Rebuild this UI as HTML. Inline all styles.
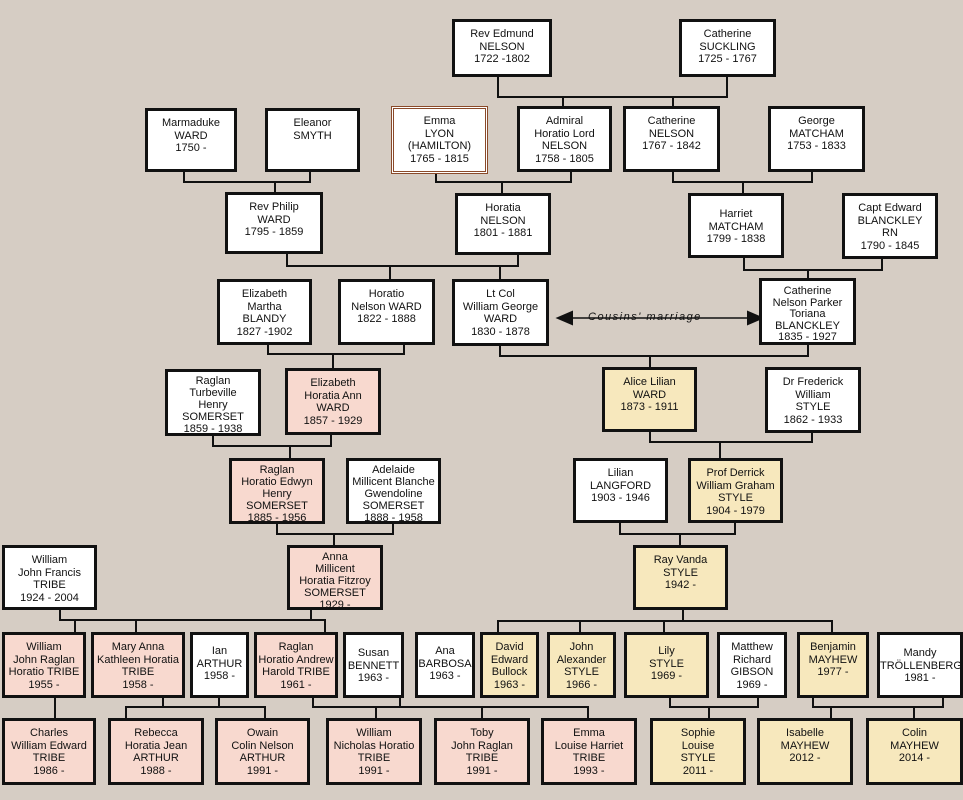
<!DOCTYPE html>
<html><head><meta charset="utf-8"><style>
body{margin:0;width:963px;height:800px;background:#d6cdc4;position:relative;overflow:hidden;font-family:"Liberation Sans",sans-serif}
.b{position:absolute;box-sizing:border-box;border:3px solid #111;background:#fff;text-align:center;font-size:11px;line-height:12.6px;padding-top:6px;color:#111;overflow:hidden;white-space:nowrap}
.p{background:#f8d9cf}.y{background:#f7e8bd}
svg{position:absolute;left:0;top:0}
.m{position:absolute;left:588px;top:311px;font-size:11px;font-style:italic;letter-spacing:1.5px;color:#111}
</style></head><body>
<svg width="963" height="800" stroke="#111" stroke-width="2" fill="none">
<path d="M498 77V97H727V77M563 97V107M673 97V107"/>
<path d="M184 172V182H310V172M275 182V193"/>
<path d="M436 174V182H571V172M502 182V193"/>
<path d="M673 172V182H812V172M743 182V193"/>
<path d="M287 254V266H518V255M390 266V279M500 266V279"/>
<path d="M744 258V270H882V259M808 270V278"/>
<path d="M268 345V354H404V345M333 354V368"/>
<path d="M500 346V356H808V345M650 356V367"/>
<path d="M213 436V446H331V435M290 446V458"/>
<path d="M650 432V442H812V433M720 442V458"/>
<path d="M277 524V534H393V524M334 534V545"/>
<path d="M620 523V534H735V523M680 534V545"/>
<path d="M60 610V620H325V632M311 610V620M75 620V632M136 620V632"/>
<path d="M683 610V621M498 632V621H832V632M580 621V632M664 621V632"/>
<path d="M55 698V718"/>
<path d="M163 698V707M219 698V707M126 718V707H265V718"/>
<path d="M313 698V707H588V718M400 698V707M376 707V718M482 707V718"/>
<path d="M670 698V707H758V698M709 707V718"/>
<path d="M813 698V707H943V698M831 707V718M914 707V718"/>
<path d="M572 318H748" stroke-width="1.5"/>
<path d="M558 318L572 312V324ZM762 318L748 312V324Z" fill="#111"/>
</svg>
<div class="m">Cousins' marriage</div>
<div class="b" style="left:452px;top:19px;width:100px;height:58px">Rev Edmund<br>NELSON<br>1722 -1802</div>
<div class="b" style="left:679px;top:19px;width:97px;height:58px">Catherine<br>SUCKLING<br>1725 - 1767</div>
<div class="b" style="left:145px;top:108px;width:92px;height:64px">Marmaduke<br>WARD<br>1750 -</div>
<div class="b" style="left:265px;top:108px;width:95px;height:64px">Eleanor<br>SMYTH</div>
<div class="b" style="left:391px;top:106px;width:97px;height:68px;border:3px double #8a4a2a">Emma<br>LYON<br>(HAMILTON)<br>1765 - 1815</div>
<div class="b" style="left:517px;top:106px;width:95px;height:66px">Admiral<br>Horatio Lord<br>NELSON<br>1758 - 1805</div>
<div class="b" style="left:623px;top:106px;width:97px;height:66px">Catherine<br>NELSON<br>1767 - 1842</div>
<div class="b" style="left:768px;top:106px;width:97px;height:66px">George<br>MATCHAM<br>1753 - 1833</div>
<div class="b" style="left:225px;top:192px;width:98px;height:62px">Rev Philip<br>WARD<br>1795 - 1859</div>
<div class="b" style="left:455px;top:193px;width:96px;height:62px">Horatia<br>NELSON<br>1801 - 1881</div>
<div class="b" style="left:688px;top:193px;width:96px;height:65px;padding-top:12px">Harriet<br>MATCHAM<br>1799 - 1838</div>
<div class="b" style="left:842px;top:193px;width:96px;height:66px">Capt Edward<br>BLANCKLEY<br>RN<br>1790 - 1845</div>
<div class="b" style="left:217px;top:279px;width:95px;height:66px">Elizabeth<br>Martha<br>BLANDY<br>1827 -1902</div>
<div class="b" style="left:338px;top:279px;width:97px;height:66px">Horatio<br>Nelson WARD<br>1822 - 1888</div>
<div class="b" style="left:452px;top:279px;width:97px;height:67px">Lt Col<br>William George<br>WARD<br>1830 - 1878</div>
<div class="b" style="left:759px;top:278px;width:97px;height:67px;padding-top:5px;line-height:11.5px">Catherine<br>Nelson Parker<br>Toriana<br>BLANCKLEY<br>1835 - 1927</div>
<div class="b" style="left:165px;top:369px;width:96px;height:67px;padding-top:3px;line-height:12px">Raglan<br>Turbeville<br>Henry<br>SOMERSET<br>1859 - 1938</div>
<div class="b p" style="left:285px;top:368px;width:96px;height:67px">Elizabeth<br>Horatia Ann<br>WARD<br>1857 - 1929</div>
<div class="b y" style="left:602px;top:367px;width:95px;height:65px">Alice Lilian<br>WARD<br>1873 - 1911</div>
<div class="b" style="left:765px;top:367px;width:96px;height:66px">Dr Frederick<br>William<br>STYLE<br>1862 - 1933</div>
<div class="b p" style="left:229px;top:458px;width:96px;height:66px;padding-top:3px;line-height:12px">Raglan<br>Horatio Edwyn<br>Henry<br>SOMERSET<br>1885 - 1956</div>
<div class="b" style="left:346px;top:458px;width:95px;height:66px;padding-top:3px;line-height:12px">Adelaide<br>Millicent Blanche<br>Gwendoline<br>SOMERSET<br>1888 - 1958</div>
<div class="b" style="left:573px;top:458px;width:95px;height:65px">Lilian<br>LANGFORD<br>1903 - 1946</div>
<div class="b y" style="left:688px;top:458px;width:95px;height:65px">Prof Derrick<br>William Graham<br>STYLE<br>1904 - 1979</div>
<div class="b" style="left:2px;top:545px;width:95px;height:65px">William<br>John Francis<br>TRIBE<br>1924 - 2004</div>
<div class="b p" style="left:287px;top:545px;width:96px;height:65px;padding-top:3px;line-height:12px">Anna<br>Millicent<br>Horatia Fitzroy<br>SOMERSET<br>1929 -</div>
<div class="b y" style="left:633px;top:545px;width:95px;height:65px">Ray Vanda<br>STYLE<br>1942 -</div>
<div class="b p" style="left:2px;top:632px;width:84px;height:66px">William<br>John Raglan<br>Horatio TRIBE<br>1955 -</div>
<div class="b p" style="left:91px;top:632px;width:94px;height:66px">Mary Anna<br>Kathleen Horatia<br>TRIBE<br>1958 -</div>
<div class="b" style="left:190px;top:632px;width:59px;height:66px;padding-top:10px">Ian<br>ARTHUR<br>1958 -</div>
<div class="b p" style="left:254px;top:632px;width:84px;height:66px">Raglan<br>Horatio Andrew<br>Harold TRIBE<br>1961 -</div>
<div class="b" style="left:343px;top:632px;width:61px;height:66px;padding-top:12px">Susan<br>BENNETT<br>1963 -</div>
<div class="b" style="left:415px;top:632px;width:60px;height:66px;padding-top:10px">Ana<br>BARBOSA<br>1963 -</div>
<div class="b y" style="left:480px;top:632px;width:59px;height:66px">David<br>Edward<br>Bullock<br>1963 -</div>
<div class="b y" style="left:547px;top:632px;width:69px;height:66px">John<br>Alexander<br>STYLE<br>1966 -</div>
<div class="b y" style="left:624px;top:632px;width:85px;height:66px;padding-top:10px">Lily<br>STYLE<br>1969 -</div>
<div class="b" style="left:717px;top:632px;width:70px;height:66px">Matthew<br>Richard<br>GIBSON<br>1969 -</div>
<div class="b y" style="left:797px;top:632px;width:72px;height:66px">Benjamin<br>MAYHEW<br>1977 -</div>
<div class="b" style="left:877px;top:632px;width:86px;height:66px;padding-top:12px">Mandy<br>TRÖLLENBERG<br>1981 -</div>
<div class="b p" style="left:2px;top:718px;width:94px;height:67px">Charles<br>William Edward<br>TRIBE<br>1986 -</div>
<div class="b p" style="left:108px;top:718px;width:96px;height:67px">Rebecca<br>Horatia Jean<br>ARTHUR<br>1988 -</div>
<div class="b p" style="left:215px;top:718px;width:95px;height:67px">Owain<br>Colin Nelson<br>ARTHUR<br>1991 -</div>
<div class="b p" style="left:326px;top:718px;width:96px;height:67px">William<br>Nicholas Horatio<br>TRIBE<br>1991 -</div>
<div class="b p" style="left:434px;top:718px;width:96px;height:67px">Toby<br>John Raglan<br>TRIBE<br>1991 -</div>
<div class="b p" style="left:541px;top:718px;width:96px;height:67px">Emma<br>Louise Harriet<br>TRIBE<br>1993 -</div>
<div class="b y" style="left:650px;top:718px;width:96px;height:67px">Sophie<br>Louise<br>STYLE<br>2011 -</div>
<div class="b y" style="left:757px;top:718px;width:96px;height:67px">Isabelle<br>MAYHEW<br>2012 -</div>
<div class="b y" style="left:866px;top:718px;width:97px;height:67px">Colin<br>MAYHEW<br>2014 -</div>
</body></html>
